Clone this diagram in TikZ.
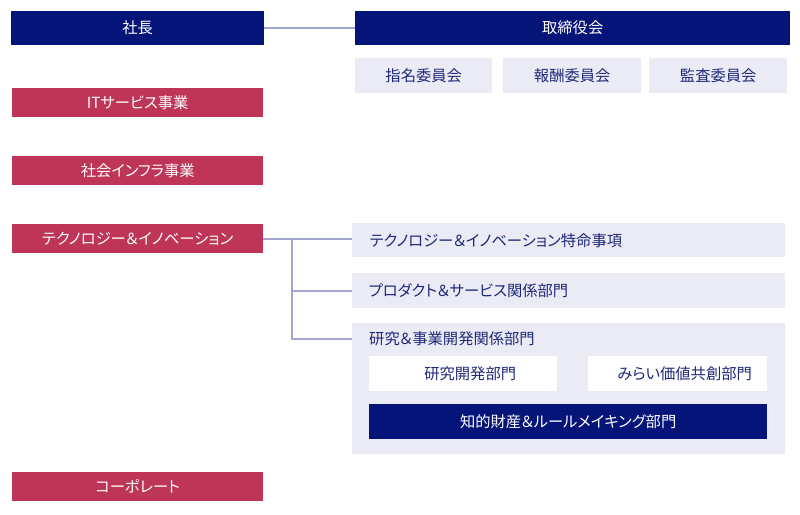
\documentclass[tikz,border=0pt]{standalone}
\usepackage{fontspec}
\setmainfont{Noto Sans CJK JP}[RawFeature=+palt]
\usepackage{tikz}
\usetikzlibrary{positioning}

\definecolor{orgnavy}{RGB}{4,20,120}
\definecolor{orgred}{RGB}{190,53,88}
\definecolor{orglight}{RGB}{235,235,245}
\definecolor{orgline}{RGB}{160,166,208}
\definecolor{orgtext}{RGB}{30,40,120}

\tikzset{
  box/.style={anchor=north west, inner sep=0pt, font=\fontsize{15.3}{18}\selectfont},
  topbox/.style={box, fill=orgnavy, text=white, minimum height=34pt},
  unitbox/.style={box, fill=orgred, text=white, minimum width=251pt, minimum height=29pt},
  subbox/.style={box, fill=orglight, text=orgtext, minimum height=35pt},
  whitebox/.style={box, fill=white, text=orgtext, minimum height=35pt},
  link/.style={draw=orgline, line width=2pt}
}

\begin{document}
\begin{tikzpicture}[x=1pt, y=-1pt]
\useasboundingbox (0,0) rectangle (800,514);
% Top row: president and board
\node[topbox, minimum width=253pt] (shacho) at (11,11) {社長};
\node[topbox, minimum width=435pt] (torishimari) at (355,11) {取締役会};
\draw[link] (shacho.east) -- (torishimari.west);
% Committees under the board
\node[subbox, minimum width=137pt] (shimei) at (355,58) {指名委員会};
\node[subbox, minimum width=138pt] (hoshu) at (503,58) {報酬委員会};
\node[subbox, minimum width=138pt] (kansa) at (649,58) {監査委員会};
% Business units on the left
\node[unitbox] (itsvc) at (12,88) {ITサービス事業};
\node[unitbox] (infra) at (12,156) {社会インフラ事業};
\node[unitbox] (techinno) at (12,224) {テクノロジー＆イノベーション};
\node[unitbox] (corporate) at (12,472) {コーポレート};
% Technology & innovation divisions
\node[subbox, minimum width=433pt, minimum height=34pt, text width=416pt, align=left]
  (tokumei) at (352,223) {\hspace*{9pt}テクノロジー＆イノベーション特命事項};
\node[subbox, minimum width=433pt, text width=416pt, align=left]
  (product) at (352,273) {\hspace*{8pt}プロダクト＆サービス関係部門};
\node[subbox, minimum width=433pt, minimum height=131pt] (kenkyu) at (352,323) {};
\node[anchor=west, inner sep=0pt, text=orgtext, font=\fontsize{15.3}{18}\selectfont]
  (kenkyulbl) at (369,339) {研究＆事業開発関係部門};
\node[whitebox, minimum width=188pt] (rd) at (369,356) {\hspace*{14pt}研究開発部門};
\node[whitebox, minimum width=179pt] (mirai) at (588,356) {\hspace*{14pt}みらい価値共創部門};
\node[topbox, minimum width=398pt, minimum height=35pt] (chizai) at (369,404) {知的財産＆ルールメイキング部門};
% Connectors from technology & innovation
\coordinate (trunk) at (292,0);
\draw[link] (techinno.east) -- (techinno.east -| tokumei.west);
\draw[link] (trunk |- techinno.east) -- (trunk |- kenkyulbl)
  -- (kenkyu.west |- kenkyulbl);
\draw[link] (trunk |- product.west) -- (product.west);
\end{tikzpicture}
\end{document}
